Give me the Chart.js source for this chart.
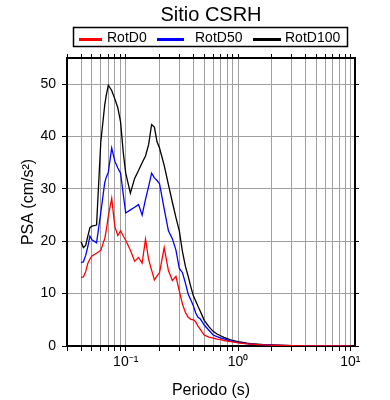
<!DOCTYPE html>
<html>
<head>
<meta charset="utf-8">
<script src="https://cdn.jsdelivr.net/npm/chart.js@4"></script>
<style>
  html, body { margin: 0; padding: 0; background: #fff; }
  #wrap { width: 390px; height: 400px; }
</style>
</head>
<body>
<div id="wrap"><canvas id="psaChart" width="390" height="400"></canvas></div>
<script>
// periods (s)
const periods = [0.04, 0.042, 0.044, 0.046, 0.048, 0.05, 0.055, 0.06, 0.065, 0.067, 0.07, 0.075, 0.08, 0.085, 0.09, 0.095,
    0.1, 0.11, 0.12, 0.13, 0.14, 0.15, 0.16, 0.17, 0.18, 0.19, 0.2, 0.22, 0.24, 0.26, 0.28, 0.3, 0.32, 0.34, 0.36, 0.38,
    0.4, 0.42, 0.44, 0.46, 0.48, 0.5, 0.55, 0.6, 0.65, 0.7, 0.75, 0.8, 0.85, 0.9, 0.95, 1, 1.1, 1.2, 1.3, 1.5, 1.7, 2,
    2.5, 3, 4, 5, 7.5, 10];

const rotD0 = [13.1, 13.2, 14.2, 15.8, 16.6, 17.2, 17.7, 18.3, 20.5, 22.0, 24.8, 28.2, 22.8, 21.1, 22.0, 21.0,
    20.2, 18.3, 16.2, 16.9, 15.8, 20.4, 16.5, 14.5, 12.6, 13.4, 14.0, 18.8, 14.4, 12.5, 13.3, 10.5, 8.0, 6.4, 5.5, 5.1,
    5.0, 4.6, 3.8, 3.2, 2.6, 2.1, 1.7, 1.5, 1.3, 1.2, 1.05, 0.95, 0.85, 0.78, 0.7, 0.6, 0.5, 0.42, 0.35, 0.27, 0.2, 0.15,
    0.1, 0.07, 0.04, 0.03, 0.02, 0.01];

const rotD50 = [15.9, 16.1, 17.3, 19.0, 21.0, 20.3, 19.7, 25.5, 31.2, 32.2, 33.2, 37.8, 35.3, 34.0, 33.0, 29.0,
    25.4, 26.0, 26.5, 27.0, 25.0, 28.0, 30.5, 33.0, 32.1, 31.6, 31.0, 26.2, 22.0, 20.5, 18.3, 14.8, 14.0, 12.0, 9.9, 8.8,
    7.7, 6.3, 5.5, 5.2, 4.6, 4.0, 3.0, 2.1, 1.8, 1.55, 1.35, 1.15, 1.0, 0.88, 0.78, 0.68, 0.54, 0.44, 0.37, 0.28, 0.21, 0.15,
    0.1, 0.07, 0.04, 0.03, 0.02, 0.01];

const rotD100 = [19.9, 18.8, 19.2, 21.0, 22.6, 22.9, 23.1, 39.0, 46.0, 47.8, 49.8, 48.8, 47.2, 45.5, 42.8, 37.0,
    33.0, 29.2, 32.0, 33.5, 35.0, 36.3, 38.5, 42.3, 41.8, 39.0, 37.8, 34.5, 30.8, 27.5, 24.5, 22.0, 18.0, 15.2, 13.3, 11.3,
    9.6, 8.6, 7.6, 6.7, 5.8, 4.9, 3.7, 2.8, 2.3, 1.95, 1.65, 1.4, 1.2, 1.05, 0.95, 0.85, 0.7, 0.56, 0.46, 0.35, 0.27, 0.2,
    0.12, 0.08, 0.05, 0.03, 0.02, 0.01];

const seriesNames = ["RotD0", "RotD50", "RotD100"];
const seriesColors = ["#ff0000", "#0000ff", "#000000"];

const yTicks = [0, 10, 20, 30, 40, 50];
const xLabelValues = [0.1, 1, 10];
const xLabelTexts = ["10\u207B\u00B9", "10\u2070", "10\u00B9"];

const FONT = "'Liberation Sans', Arial, Helvetica, sans-serif";

// log grid: 3..9 x 0.01, 1..9 x 0.1, 1..9 x 1, 10
const xGrid = [];
[0.01, 0.1, 1].forEach(function (d) {
    for (let k = 1; k <= 9; k++) {
        const v = Number((k * d).toPrecision(3));
        if (v >= 0.03) xGrid.push(v);
    }
});
xGrid.push(10);

function setXTicks(scale) {
    scale.ticks = xGrid.map(function (v) {
        return { value: v, major: xLabelValues.indexOf(v) >= 0 };
    });
}
function setYTicks(scale) {
    scale.ticks = yTicks.map(function (v) { return { value: v }; });
}

const headerPlugin = {
    id: "header",
    afterDraw(chart) {
        const ctx = chart.ctx;
        const area = chart.chartArea;
        const cx = (area.left + area.right) / 2;
        ctx.save();
        ctx.fillStyle = "#000";
        ctx.font = "20px " + FONT;
        ctx.textAlign = "center";
        ctx.textBaseline = "middle";
        ctx.fillText("Sitio CSRH", cx, 15);

        // legend box
        ctx.lineWidth = 1.5;
        ctx.strokeStyle = "#000";
        ctx.strokeRect(73.5, 27.5, 274, 19);
        ctx.font = "14px " + FONT;
        ctx.textAlign = "left";
        const lineX = [79, 157, 253];
        const lineW = [23, 27, 28];
        const textX = [107, 195, 285];
        for (let i = 0; i < seriesNames.length; i++) {
            ctx.strokeStyle = seriesColors[i];
            ctx.lineWidth = 3;
            ctx.beginPath();
            ctx.moveTo(lineX[i], 39.5);
            ctx.lineTo(lineX[i] + lineW[i], 39.5);
            ctx.stroke();
            ctx.fillStyle = "#000";
            ctx.fillText(seriesNames[i], textX[i], 38.5);
        }
        ctx.restore();
    }
};

function renderChart() {
    const ctx = document.getElementById("psaChart").getContext("2d");

    const datasets = seriesNames.map(function (name, i) {
        return {
            label: name,
            data: [rotD0, rotD50, rotD100][i],
            borderColor: seriesColors[i],
            backgroundColor: seriesColors[i],
            borderWidth: 1.3,
            pointRadius: 0,
            tension: 0,
            fill: false
        };
    });

    new Chart(ctx, {
        type: "line",
        data: { labels: periods, datasets: datasets },
        plugins: [headerPlugin],
        options: {
            responsive: false,
            animation: false,
            layout: { padding: 0 },
            plugins: {
                legend: { display: false },
                tooltip: { enabled: false },
                title: { display: false }
            },
            scales: {
                x: {
                    type: "logarithmic",
                    position: "bottom",
                    min: 0.03,
                    max: 11,
                    afterBuildTicks: setXTicks,
                    afterFit: function (s) { s.height = 54; },
                    border: { display: true, color: "#000", width: 2 },
                    grid: { color: "#a0a0a0", lineWidth: 1, tickColor: "#000", tickLength: 5 },
                    ticks: {
                        autoSkip: false,
                        maxRotation: 0,
                        padding: 3,
                        color: "#000",
                        font: { size: 14, family: FONT },
                        callback: function (v) {
                            const i = xLabelValues.indexOf(Number(v));
                            return i >= 0 ? xLabelTexts[i] : "";
                        }
                    },
                    title: {
                        display: true,
                        text: "Periodo (s)",
                        color: "#000",
                        font: { size: 16, family: FONT },
                        padding: { top: 1, bottom: 0 }
                    }
                },
                x2: {
                    type: "logarithmic",
                    position: "top",
                    min: 0.03,
                    max: 11,
                    afterBuildTicks: setXTicks,
                    afterFit: function (s) { s.height = 58; },
                    border: { display: true, color: "#000", width: 2 },
                    grid: { drawOnChartArea: false, tickColor: "#000", tickLength: 4 },
                    ticks: { display: false }
                },
                y: {
                    type: "linear",
                    position: "left",
                    min: 0,
                    max: 55,
                    afterBuildTicks: setYTicks,
                    afterFit: function (s) { s.width = 67; },
                    border: { display: true, color: "#000", width: 2 },
                    grid: { color: "#a0a0a0", lineWidth: 1, tickColor: "#000", tickLength: 5 },
                    ticks: {
                        padding: 6,
                        color: "#000",
                        font: { size: 14, family: FONT }
                    },
                    title: {
                        display: true,
                        text: "PSA (cm/s\u00B2)",
                        color: "#000",
                        font: { size: 16, family: FONT },
                        padding: { top: 19, bottom: 0 }
                    }
                },
                y2: {
                    type: "linear",
                    position: "right",
                    min: 0,
                    max: 55,
                    afterBuildTicks: setYTicks,
                    afterFit: function (s) { s.width = 35; },
                    border: { display: true, color: "#000", width: 2 },
                    grid: { drawOnChartArea: false, tickColor: "#000", tickLength: 4 },
                    ticks: { display: false }
                }
            }
        }
    });
}

renderChart();
</script>
</body>
</html>
